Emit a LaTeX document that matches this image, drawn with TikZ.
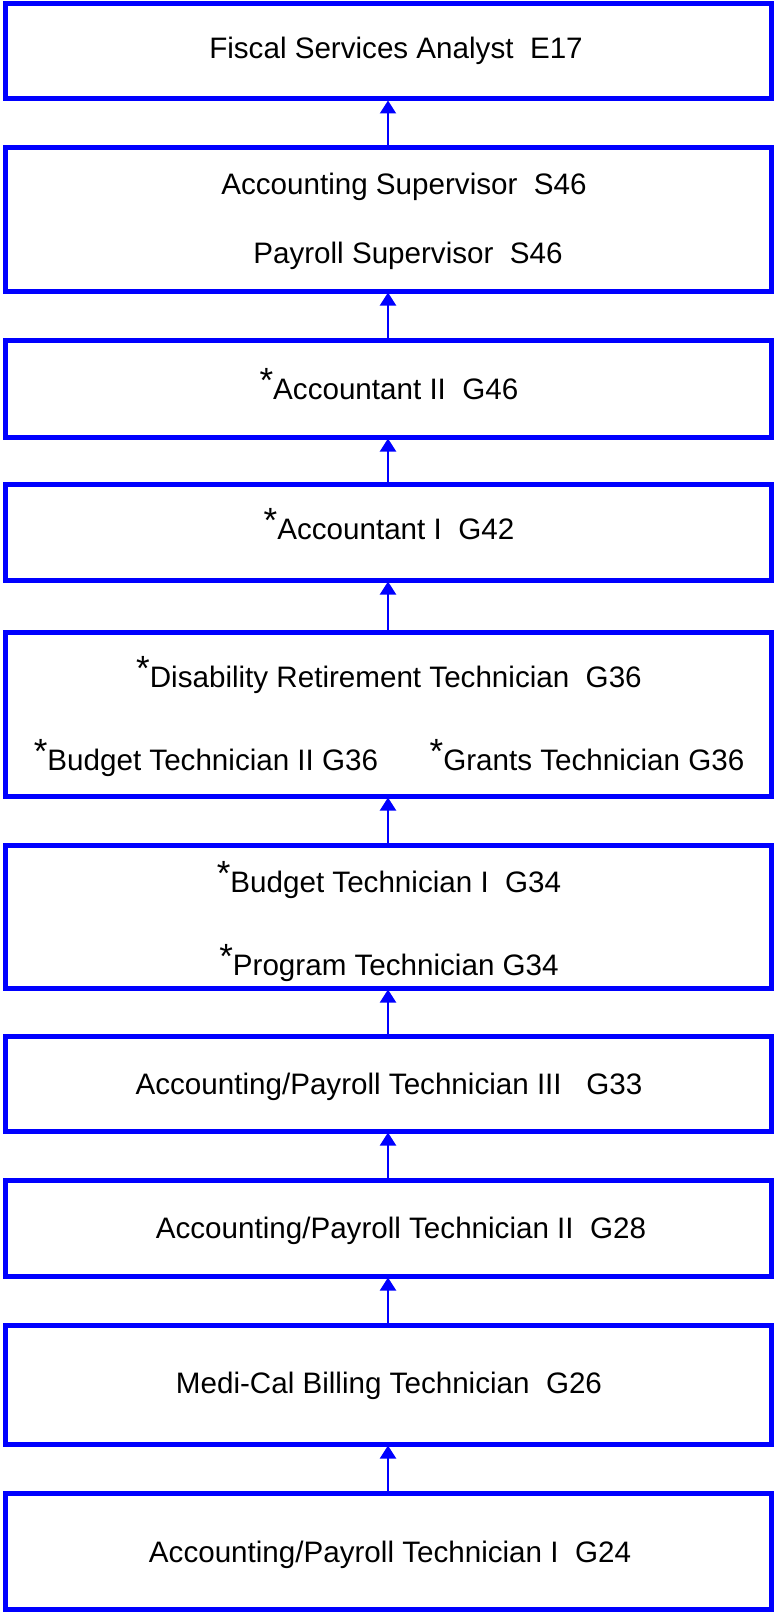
\documentclass[tikz,border=0pt]{standalone}
\usepackage{fontspec}
\setmainfont{Liberation Sans}
\usepackage{tikz}
\usetikzlibrary{arrows.meta}
\definecolor{rankblue}{RGB}{0,0,255}
\newcommand{\classmark}{\raisebox{7pt}{\fontsize{35}{35}\selectfont *}}
\newcommand{\rankbox}[4]{\node[rankbox, minimum height=#3pt] (#1) at (388,#2) {};}
\newcommand{\ranktext}[4]{\node[ranktext] (#1) at (#2,#3) {#4};}
\tikzset{
  rankbox/.style={draw=rankblue, line width=5pt, minimum width=766pt, inner sep=0pt, outer sep=0pt},
  ranktext/.style={font=\fontsize{29.6}{29.6}\selectfont, inner sep=0pt, anchor=base},
  uparrow/.style={draw=rankblue, line width=2pt, shorten >=1.5pt, -{Triangle[length=13pt,width=16pt]}}
}

\begin{document}
\begin{tikzpicture}[x=1pt, y=-1pt]
\useasboundingbox (0,0) rectangle (774,1613);
% boxes, top to bottom
\rankbox{b1}{51.5}{95}{}
\rankbox{b2}{219.5}{143}{}
\rankbox{b3}{388.5}{97}{}
\rankbox{b4}{532}{96}{}
\rankbox{b5}{714}{164}{}
\rankbox{b6}{916.5}{143}{}
\rankbox{b7}{1083.5}{95}{}
\rankbox{b8}{1228}{96}{}
\rankbox{b9}{1384.5}{119}{}
\rankbox{b10}{1551}{116}{}
% titles
\ranktext{t1}{396}{59}{Fiscal Services Analyst\ \ E17}
\ranktext{t2a}{404}{195}{Accounting Supervisor\ \ S46}
\ranktext{t2b}{408}{263}{Payroll Supervisor\ \ S46}
\ranktext{t3}{389}{399}{\classmark Accountant II\ \ G46}
\ranktext{t4}{389}{539}{\classmark Accountant I\ \ G42}
\ranktext{t5a}{389}{687}{\classmark Disability Retirement Technician\ \ G36}
\ranktext{t5b}{206}{770}{\classmark Budget Technician II G36}
\ranktext{t5c}{587}{770}{\classmark Grants Technician G36}
\ranktext{t6a}{389}{892}{\classmark Budget Technician I\ \ G34}
\ranktext{t6b}{389}{975}{\classmark Program Technician G34}
\ranktext{t7}{389}{1094}{Accounting/Payroll Technician III\ \ \ G33}
\ranktext{t8}{401}{1238}{Accounting/Payroll Technician II\ \ G28}
\ranktext{t9}{389}{1393}{Medi-Cal Billing Technician\ \ G26}
\ranktext{t10}{390}{1562}{Accounting/Payroll Technician I\ \ G24}
% promotion arrows
\foreach \lo/\hi in {b10/b9,b9/b8,b8/b7,b7/b6,b6/b5,b5/b4,b4/b3,b3/b2,b2/b1}
  \draw[uparrow] (\lo.north) -- (\hi.south);
\end{tikzpicture}
\end{document}
